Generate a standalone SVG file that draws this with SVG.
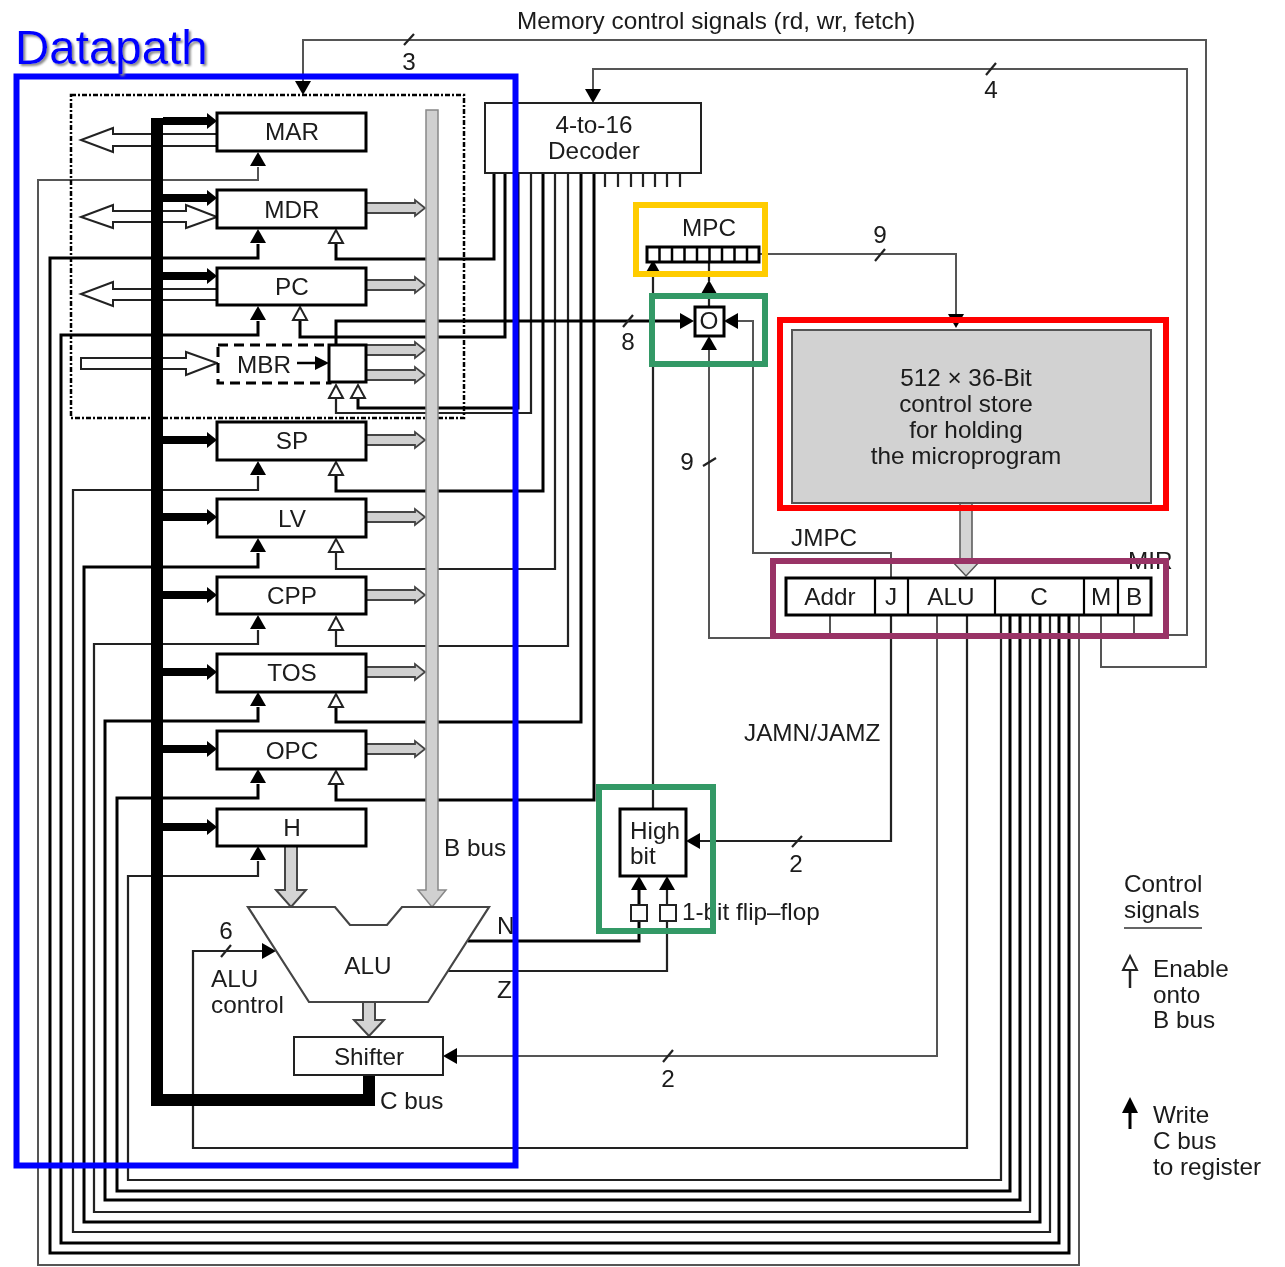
<svg xmlns="http://www.w3.org/2000/svg" width="1285" height="1267" viewBox="0 0 1285 1267">
<style>
text{font-family:"Liberation Sans",Arial,sans-serif;font-size:24.300px;fill:#1a1a1a}
.m{text-anchor:middle}
.t,.k,.g{fill:none}
.t{stroke:#222;stroke-width:2.2}
.k{stroke:#000;stroke-width:3}
.g{stroke:#555;stroke-width:2}
.b{fill:#fff;stroke:#000;stroke-width:3}
.n{fill:#fff;stroke:#222;stroke-width:2}
.fr{fill:none;stroke-width:6}
.hd{marker-end:url(#solid)}
.op{marker-end:url(#open)}
.cb{fill:none;stroke:#000;stroke-width:8;marker-end:url(#cbh)}
</style>
<defs>
<filter id="soft" filterUnits="userSpaceOnUse" x="0" y="0" width="1285" height="1267"><feGaussianBlur stdDeviation="0.7"/></filter>
<filter id="sh" filterUnits="userSpaceOnUse" x="0" y="0" width="300" height="100"><feDropShadow dx="2" dy="2" stdDeviation="1" flood-color="#888"/></filter>
<marker id="solid" markerUnits="userSpaceOnUse" markerWidth="14" markerHeight="16" refX="0" refY="8" orient="auto" overflow="visible"><path d="M0 0L14 8L0 16z" fill="#000"/></marker>
<marker id="open" markerUnits="userSpaceOnUse" markerWidth="14" markerHeight="14" refX="0" refY="7" orient="auto" overflow="visible"><path d="M0 0L13 7L0 14z" fill="#fff" stroke="#222" stroke-width="2"/></marker>
<marker id="cbh" markerUnits="userSpaceOnUse" markerWidth="10" markerHeight="16" refX="0" refY="8" orient="auto" overflow="visible"><path d="M0 0L10 8L0 16z" fill="#000"/></marker>
<path id="ba" d="M0 -5H49V-8L59 0L49 8V5H0z" fill="#d0d0d0" stroke="#444" stroke-width="1.8"/>
<path id="dn" d="M-6 0H6V44H15L0 61L-15 44H-6z" fill="#d4d4d4" stroke="#444" stroke-width="2"/>
</defs>
<g filter="url(#soft)">
<g id="connectors">
<path class="g" d="M1079 615V1265H38V180H258V167" />
<path class="k" d="M1069 615V1253H50V258H258V244"/>
<path class="k" d="M1059 615V1243H61V335H258V321"/>
<path class="t" d="M1050 615V1232H73V490H258V476"/>
<path class="k" d="M1040 615V1222H84V567H258V553"/>
<path class="t" d="M1030 615V1212H94V644H258V630"/>
<path class="k" d="M1020 615V1200H105V721H258V707"/>
<path class="k" d="M1010 615V1191H117V798H258V784"/>
<path class="t" d="M1001 615V1180H128V876H258V861"/>
<g>
<path class="hd" d="M258 167V166"/><path class="hd" d="M258 244V243"/><path class="hd" d="M258 321V320"/><path class="hd" d="M258 476V475"/><path class="hd" d="M258 553V552"/><path class="hd" d="M258 630V629"/><path class="hd" d="M258 707V706"/><path class="hd" d="M258 784V783"/><path class="hd" d="M258 861V860"/>
</g>
<path class="k op" d="M494 174V259H336V243"/>
<path class="k op" d="M505 174V337H300V320"/>
<path class="k op" d="M518 174V408H358V398"/>
<path class="t op" d="M531 174V413H336V398"/>
<path class="k op" d="M543 174V491H336V475"/>
<path class="t op" d="M555 174V569H336V552"/>
<path class="t op" d="M568 174V646H336V630"/>
<path class="k op" d="M581 174V722H336V707"/>
<path class="k op" d="M594 174V800H336V784"/>
<path class="t" d="M605 174V187M618 174V187M631 174V187M643 174V187M655 174V187M667 174V187M680 174V187"/>
<path class="g hd" d="M1101 615V667H1206V40H303V81"/>
<path class="g hd" d="M1134 615V635H1187V69H593V89"/>
<path class="t hd" d="M967 615V1148H193V951H262"/>
<path class="g hd" d="M937 615V1056H457"/>
<path class="t hd" d="M891 615V841H700"/>
<path class="g hd" d="M891 577V553H753V321H738"/>
<path class="g hd" d="M830 615V638H709V350"/>
<path class="g hd" d="M760 254H956V314"/>
<path class="t hd" d="M653 808V274"/>
<path class="t hd" d="M709 306V294"/>
<path class="t" d="M709 281V262"/>
<path class="k hd" d="M336 345V321H680"/>
<path class="k" d="M468 941H639V922"/>
<path class="t" d="M448 971H667V922"/>
<path class="k hd" d="M639 904V890"/>
<path class="t hd" d="M667 904V890"/>
<path class="t" d="M404 45L414 34M986 75L996 63M623 327L633 315M875 261L885 249M703 466L716 458M792 847L802 836M663 1062L673 1050M221 957L231 945"/>
<path d="M113 128L81 140L113 152V146H217V134H113z" fill="#fff" stroke="#222" stroke-width="2"/>
<path d="M113 205L81 217L113 228V222H186V228L217 217L186 205V211H113z" fill="#fff" stroke="#222" stroke-width="2"/>
<path d="M113 282L81 294L113 306V300H217V289H113z" fill="#fff" stroke="#222" stroke-width="2"/>
<path d="M81 358H186V352L217 363L186 375V369H81z" fill="#fff" stroke="#222" stroke-width="2"/>
<path d="M71 95H464V418H71z" fill="none" stroke="#000" stroke-width="2.500" stroke-dasharray="5 2 2 2"/>
<path d="M157 118V1100H369V1075" fill="none" stroke="#000" stroke-width="12"/>
<path class="cb" d="M163 121H207"/><path class="cb" d="M163 198H207"/><path class="cb" d="M163 276H207"/><path class="cb" d="M163 440H207"/><path class="cb" d="M163 517H207"/><path class="cb" d="M163 595H207"/><path class="cb" d="M163 672H207"/><path class="cb" d="M163 749H207"/><path class="cb" d="M163 827H207"/>
<use href="#ba" x="366" y="208"/><use href="#ba" x="366" y="285"/><use href="#ba" x="366" y="350"/><use href="#ba" x="366" y="375"/><use href="#ba" x="366" y="440"/><use href="#ba" x="366" y="517"/><use href="#ba" x="366" y="595"/><use href="#ba" x="366" y="672"/><use href="#ba" x="366" y="749"/>
<path d="M426 110H438V890H446L432 907L418 890H426z" fill="#d0d0d0" stroke="#888" stroke-width="1.500"/>
<use href="#dn" x="291" y="846"/>
<path d="M363 1002H375V1020H384L369 1036L354 1020H363z" fill="#d4d4d4" stroke="#444" stroke-width="2"/>
<path d="M960 503H972V560H981L966 576L951 560H960z" fill="#d4d4d4" stroke="#555" stroke-width="1.500"/>
</g>
<g id="node-mar"><rect class="b" x="217" y="113" width="149" height="38"/><text class="m" x="292" y="140">MAR</text></g>
<g id="node-mdr"><rect class="b" x="217" y="190" width="149" height="38"/><text class="m" x="292" y="218">MDR</text></g>
<g id="node-pc"><rect class="b" x="217" y="268" width="149" height="37"/><text class="m" x="292" y="295">PC</text></g>
<g id="node-mbr"><rect x="218" y="345" width="112" height="38" fill="#fff" stroke="#000" stroke-width="3" stroke-dasharray="10 6"/><rect class="b" x="329" y="345" width="37" height="37"/><text x="237" y="373">MBR</text><path d="M297 363H315" stroke="#000" stroke-width="2.500"/><path d="M315 356L329 363L315 370z"/></g>
<g id="node-sp"><rect class="b" x="217" y="422" width="149" height="38"/><text class="m" x="292" y="449">SP</text></g>
<g id="node-lv"><rect class="b" x="217" y="499" width="149" height="38"/><text class="m" x="292" y="527">LV</text></g>
<g id="node-cpp"><rect class="b" x="217" y="577" width="149" height="37"/><text class="m" x="292" y="604">CPP</text></g>
<g id="node-tos"><rect class="b" x="217" y="654" width="149" height="38"/><text class="m" x="292" y="681">TOS</text></g>
<g id="node-opc"><rect class="b" x="217" y="731" width="149" height="38"/><text class="m" x="292" y="759">OPC</text></g>
<g id="node-h"><rect class="b" x="217" y="809" width="149" height="37"/><text class="m" x="292" y="836">H</text></g>
<g id="node-alu"><path d="M248 907H335L350 925H387L402 907H489L428 1002H309z" fill="#fff" stroke="#444" stroke-width="2.200"/><text class="m" x="368" y="974">ALU</text></g>
<g id="node-shifter"><rect class="n" x="294" y="1037" width="149" height="38"/><text class="m" x="369" y="1065">Shifter</text></g>
<g id="node-decoder"><rect class="n" x="485" y="103" width="216" height="70"/><text class="m" x="594" y="133">4-to-16</text><text class="m" x="594" y="159">Decoder</text></g>
<g id="node-mpc"><text class="m" x="709" y="236">MPC</text><rect class="b" x="647" y="247" width="112" height="15"/><path d="M659.500 247V262M672 247V262M684.500 247V262M697 247V262M709.500 247V262M722 247V262M734.500 247V262M747 247V262" stroke="#000" stroke-width="2.500"/></g>
<g id="node-or"><rect class="b" x="695" y="307" width="29" height="29"/><text class="m" x="709" y="329">O</text></g>
<g id="node-store"><rect x="792" y="330" width="359" height="173" fill="#d2d2d2" stroke="#555" stroke-width="2"/><text class="m" x="966" y="386">512 × 36-Bit</text><text class="m" x="966" y="412">control store</text><text class="m" x="966" y="438">for holding</text><text class="m" x="966" y="464">the microprogram</text></g>
<g id="node-mir"><rect class="b" x="786" y="578" width="365" height="37" stroke-width="2.500"/><path d="M875 578V615M908 578V615M995 578V615M1084 578V615M1118 578V615" stroke="#000" stroke-width="2.200"/><text class="m" x="830" y="605">Addr</text><text class="m" x="891" y="605">J</text><text class="m" x="951" y="605">ALU</text><text class="m" x="1039" y="605">C</text><text class="m" x="1101" y="605">M</text><text class="m" x="1134" y="605">B</text><text x="1128" y="569">MIR</text></g>
<g id="node-highbit"><rect class="b" x="620" y="809" width="66" height="67"/><text x="630" y="839">High</text><text x="630" y="864">bit</text></g>
<g id="node-ff"><rect class="n" x="631" y="905" width="16" height="16"/><rect class="n" x="660" y="905" width="16" height="16"/><text x="682" y="920">1-bit flip–flop</text></g>
<g id="labels">
<text x="517" y="29">Memory control signals (rd, wr, fetch)</text>
<text class="m" x="409" y="70">3</text><text class="m" x="991" y="98">4</text><text class="m" x="628" y="350">8</text><text class="m" x="880" y="243">9</text><text class="m" x="687" y="470">9</text><text class="m" x="796" y="872">2</text><text class="m" x="668" y="1087">2</text><text class="m" x="226" y="939">6</text>
<text x="791" y="546">JMPC</text><text x="744" y="741">JAMN/JAMZ</text>
<text x="444" y="856">B bus</text><text x="497" y="934">N</text><text x="497" y="998">Z</text>
<text x="211" y="987">ALU</text><text x="211" y="1013">control</text><text x="380" y="1109">C bus</text>
</g>
<g id="legend">
<text x="1124" y="892">Control</text><text x="1124" y="918">signals</text><path d="M1124 928H1202" stroke="#333" stroke-width="1.500"/>
<path d="M1130 988V970" fill="none" stroke="#222" stroke-width="2.500"/><path d="M1123 970L1130 956L1137 970z" fill="#fff" stroke="#222" stroke-width="2"/>
<text x="1153" y="977">Enable</text><text x="1153" y="1003">onto</text><text x="1153" y="1028">B bus</text>
<path d="M1130 1129V1110" stroke="#000" stroke-width="3"/><path d="M1122 1113L1130 1097L1138 1113z"/>
<text x="1153" y="1123">Write</text><text x="1153" y="1149">C bus</text><text x="1153" y="1175">to register</text>
</g>
</g>
<g id="frames">
<rect class="fr" x="636" y="205" width="129" height="69" stroke="#ffcc00"/>
<rect class="fr" x="652" y="296" width="113" height="68" stroke="#339966"/>
<rect class="fr" x="599" y="787" width="114" height="144" stroke="#339966"/>
<rect class="fr" x="780" y="320" width="386" height="188" stroke="#ff0000"/>
<rect class="fr" x="773" y="561" width="393" height="75" stroke="#993366"/>
<rect class="fr" x="16.500" y="76.500" width="499" height="1089" stroke="#0000ff" stroke-width="7"/>
<text x="15" y="64" filter="url(#sh)" style="font-size:47.500px;fill:#0000ff">Datapath</text>
</g>
</svg>
